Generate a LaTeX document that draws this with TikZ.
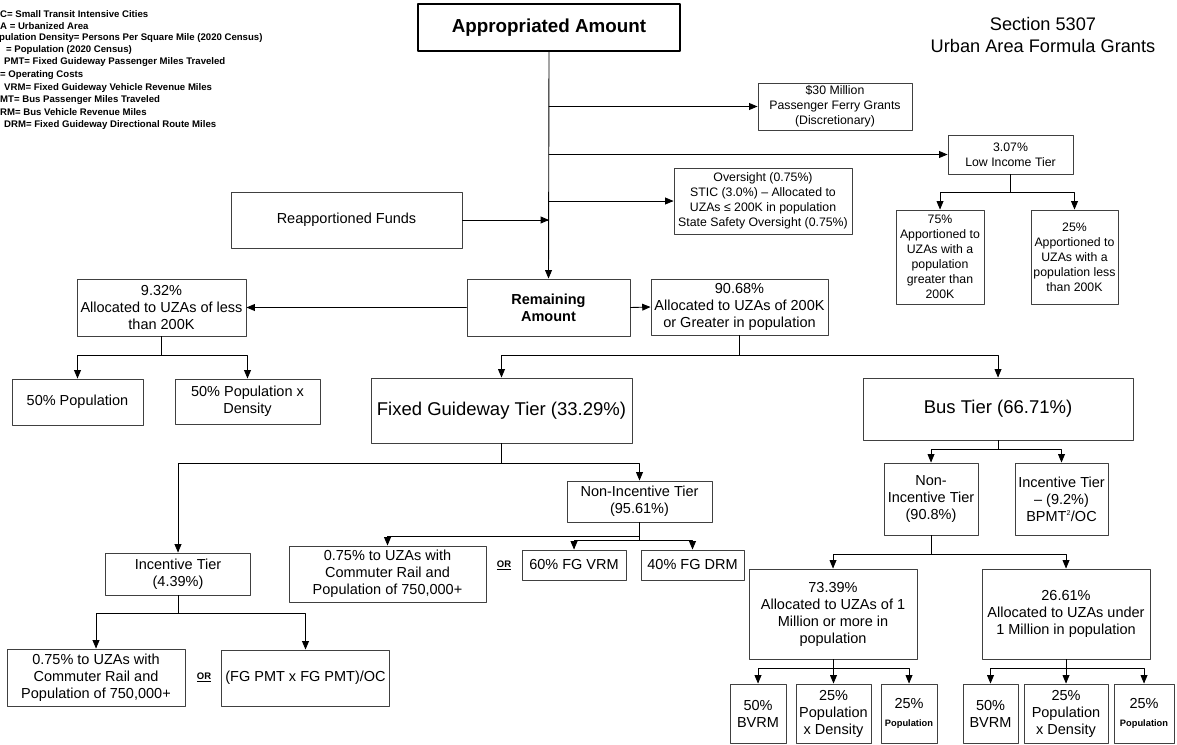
\documentclass[tikz,border=0pt]{standalone}
\usepackage{fontspec}
\setmainfont{Liberation Sans}
\usetikzlibrary{arrows}

\begin{document}
\begin{tikzpicture}[line cap=round,line join=round,>=triangle 45,x=1pt,y=-1pt,
  box/.style={draw=black!75,line width=1pt,inner sep=1pt,align=center,font=\fontsize{14.5}{17}\selectfont},
  smallbox/.style={box,font=\fontsize{12.3}{15}\selectfont},
  bigbox/.style={box,font=\fontsize{18.5}{22}\selectfont},
  link/.style={line width=0.9pt,->},
  legend/.style={anchor=west,inner sep=0pt,font=\fontsize{9.6}{12}\bfseries},
  orlabel/.style={inner sep=0pt,font=\fontsize{9.5}{11}\bfseries}]
\useasboundingbox (0,0) rectangle (1177,744);
% legend, cut at the left edge
\foreach \lx/\ly/\lt [count=\i] in {0/14/C= Small Transit Intensive Cities,0/26/A = Urbanized Area,
  -1/38/pulation Density= Persons Per Square Mile (2020 Census),6/50/= Population (2020 Census),
  4/62/PMT= Fixed Guideway Passenger Miles Traveled,0/75/= Operating Costs,
  4/88/VRM= Fixed Guideway Vehicle Revenue Miles,0/100/MT= Bus Passenger Miles Traveled,
  0/112/RM= Bus Vehicle Revenue Miles,4/125/DRM= Fixed Guideway Directional Route Miles}
  \node[legend] (leg\i) at (\lx,\ly) {\lt};
\node[align=center,font=\fontsize{18.2}{22}\selectfont] (title) at (1043,35) {Section 5307\\Urban Area Formula Grants};
% top
\node[draw=black,line width=2.4pt,inner sep=1pt,minimum width=262,minimum height=47,font=\fontsize{18.8}{22}\bfseries] (appr) at (549,27.5) {Appropriated Amount};
\node[smallbox,minimum width=154,minimum height=47] (ferry) at (835,106.5) {\$30 Million\\Passenger Ferry Grants\\(Discretionary)};
\node[smallbox,minimum width=125,minimum height=39] (lowinc) at (1010.5,154.5) {3.07\%\\Low Income Tier};
\node[smallbox,minimum width=178,minimum height=66] (over) at (763,201) {Oversight (0.75\%)\\STIC (3.0\%) -- Allocated to\\UZAs ≤ 200K in population\\State Safety Oversight (0.75\%)};
\node[box,minimum width=231,minimum height=56] (reap) at (346.5,220) {Reapportioned Funds};
\node[smallbox,minimum width=88,minimum height=94] (li75) at (940,257) {75\%\\Apportioned to\\UZAs with a\\population\\greater than\\200K};
\node[smallbox,minimum width=87,minimum height=94] (li25) at (1074.5,257) {25\%\\Apportioned to\\UZAs with a\\population less\\than 200K};
% remaining amount
\node[box,minimum width=163,minimum height=57,font=\fontsize{14.5}{17}\bfseries] (rem) at (548.5,307.5) {Remaining\\Amount};
\node[box,minimum width=169,minimum height=57] (less) at (161.5,307.5) {9.32\%\\Allocated to UZAs of less\\than 200K};
\node[box,minimum width=177,minimum height=56] (great) at (739.5,307) {90.68\%\\Allocated to UZAs of 200K\\or Greater in population};
\node[box,minimum width=131,minimum height=46] (lpop) at (77.5,402) {50\% Population};
\node[box,minimum width=145,minimum height=45] (lden) at (247.5,401.5) {50\% Population x\\Density};
% fixed guideway
\node[bigbox,minimum width=261,minimum height=65] (fg) at (501.5,410.5) {Fixed Guideway Tier (33.29\%)};
\node[box,minimum width=145,minimum height=41] (nifg) at (639.5,501.5) {Non-Incentive Tier\\(95.61\%)};
\node[box,minimum width=197,minimum height=56] (crmid) at (387.5,574) {0.75\% to UZAs with\\Commuter Rail and\\Population of 750,000+};
\node[box,minimum width=104,minimum height=30] (vrm) at (574,565) {60\% FG VRM};
\node[box,minimum width=103,minimum height=30] (drm) at (692.5,565) {40\% FG DRM};
\node[orlabel] (or1) at (504,565) {\underline{OR}};
\node[box,minimum width=145,minimum height=42] (infg) at (178,574) {Incentive Tier\\(4.39\%)};
\node[box,minimum width=178,minimum height=57] (crlow) at (96,677.5) {0.75\% to UZAs with\\Commuter Rail and\\Population of 750,000+};
\node[box,minimum width=168,minimum height=56] (pmt) at (305.5,678) {(FG PMT x FG PMT)/OC};
\node[orlabel] (or2) at (204,677) {\underline{OR}};
% bus
\node[bigbox,minimum width=270,minimum height=62] (bus) at (998,409) {Bus Tier (66.71\%)};
\node[box,minimum width=94,minimum height=72] (nibus) at (931,499) {Non-\\Incentive Tier\\(90.8\%)};
\node[box,minimum width=93,minimum height=72] (inbus) at (1061.5,499) {Incentive Tier\\-- (9.2\%)\\BPMT\textsuperscript{\scriptsize 2}/OC};
\node[box,minimum width=168,minimum height=90] (mil) at (833,614) {73.39\%\\Allocated to UZAs of 1\\Million or more in\\population};
\node[box,minimum width=168,minimum height=90] (sub) at (1066,614) {26.61\%\\Allocated to UZAs under\\1 Million in population};
\node[box,minimum width=56,minimum height=59] (bvA) at (758,713.5) {50\%\\BVRM};
\node[box,minimum width=75,minimum height=59] (pdA) at (833.5,713.5) {25\%\\Population\\x Density};
\node[box,minimum width=56,minimum height=59] (ppA) at (909,713.5) {25\%\\[1pt]{\fontsize{9.3}{11}\bfseries Population}};
\node[box,minimum width=55,minimum height=59] (bvB) at (990.5,713.5) {50\%\\BVRM};
\node[box,minimum width=84,minimum height=59] (pdB) at (1066,713.5) {25\%\\Population\\x Density};
\node[box,minimum width=60,minimum height=59] (ppB) at (1144,713.5) {25\%\\[1pt]{\fontsize{9.3}{11}\bfseries Population}};
% connectors
\draw[link] (appr.south) -- (rem.north);
\draw[link] (appr.south |- ferry.west) -- (ferry.west);
\draw[link] (appr.south |- lowinc.west) -- (lowinc.west);
\draw[link] (appr.south |- over.west) -- (over.west);
\draw[link] (reap.east) -- (reap.east -| appr.south);
\draw[link] (lowinc.south) -- ++(0,18) -| (li75.north);
\draw[link] (lowinc.south) -- ++(0,18) -| (li25.north);
\draw[link] (rem.west) -- (less.east);
\draw[link] (rem.east) -- (great.west);
\draw[link] (less.south) -- ++(0,19) -| (lpop.north);
\draw[link] (less.south) -- ++(0,19) -| (lden.north);
\draw[link] (great.south) -- ++(0,20) -| (fg.north);
\draw[link] (great.south) -- ++(0,20) -| (bus.north);
\draw[link] (fg.south) -- ++(0,20) -| (infg.north);
\draw[link] (fg.south) -- ++(0,20) -| (nifg.north);
\draw[link] (nifg.south) -- ++(0,14) -| (crmid.north);
\draw[link] (nifg.south) -- ++(0,18) -| (vrm.north);
\draw[link] (nifg.south) -- ++(0,18) -| (drm.north);
\draw[link] (infg.south) -- ++(0,18) -| (crlow.north);
\draw[link] (infg.south) -- ++(0,18) -| (pmt.north);
\draw[link] (bus.south) -- ++(0,9) -| (nibus.north);
\draw[link] (bus.south) -- ++(0,9) -| (inbus.north);
\draw[link] (nibus.south) -- ++(0,19) -| (mil.north);
\draw[link] (nibus.south) -- ++(0,19) -| (sub.north);
\foreach \k in {bvA,pdA,ppA}
  \draw[link] (mil.south) -- ++(0,9) -| (\k.north);
\foreach \k in {bvB,pdB,ppB}
  \draw[link] (sub.south) -- ++(0,9) -| (\k.north);
\end{tikzpicture}
\end{document}
